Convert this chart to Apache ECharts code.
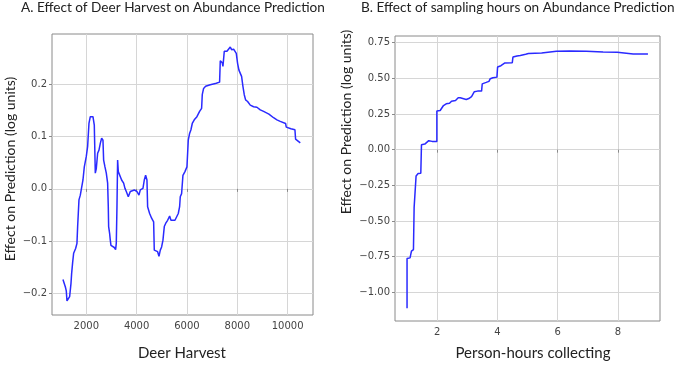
<!DOCTYPE html>
<html>
<head>
<meta charset="utf-8">
<script src="https://cdn.jsdelivr.net/npm/echarts@6/dist/echarts.min.js"></script>
<style>
  html, body { margin: 0; padding: 0; background: #fff; }
  #main { width: 680px; height: 365px; }
</style>
</head>
<body>
<div id="main"></div>
<script>
  // panel A: deer harvest vs effect
  var harvestX = [1073, 1126, 1166, 1205, 1232, 1285, 1338, 1391, 1417, 1457, 1497, 1576, 1629, 1656, 1682, 1709, 1762, 1841, 1868, 1921,
    2000, 2053, 2106, 2159, 2265, 2318, 2358, 2398, 2451, 2504, 2557, 2610, 2663, 2689, 2742, 2795, 2848, 2874, 2888, 2927,
    2954, 2980, 3033, 3113, 3165, 3192, 3219, 3245, 3272, 3351, 3404, 3484, 3537, 3590, 3669, 3749, 3802, 3908, 4013, 4093,
    4146, 4252, 4305, 4358, 4411, 4437, 4517, 4596, 4676, 4702, 4755, 4835, 4888, 4941, 4994, 5047, 5100, 5153, 5232, 5312,
    5365, 5444, 5524, 5603, 5656, 5709, 5735, 5788, 5841, 5921, 6000, 6053, 6106, 6159, 6212, 6291, 6397, 6503, 6583, 6609,
    6662, 6742, 6927, 7166, 7298, 7325, 7404, 7431, 7484, 7590, 7669, 7722, 7775, 7855, 7908, 7961, 8013, 8066, 8172, 8225,
    8278, 8331, 8411, 8517, 8649, 8781, 8914, 9046, 9258, 9443, 9576, 9708, 9920, 9947, 10133, 10292, 10318, 10371, 10504];
  var harvestY = [-0.173, -0.173, -0.187, -0.195, -0.214, -0.213, -0.206, -0.181, -0.162, -0.141, -0.123, -0.114, -0.104, -0.072, -0.047, -0.021, -0.012, -0.009, 0.017, 0.042,
    0.062, 0.081, 0.125, 0.138, 0.138, 0.122, 0.030, 0.039, 0.068, 0.074, 0.087, 0.097, 0.093, 0.055, 0.042, 0.030, 0.011, -0.034, -0.072, -0.085,
    -0.098, -0.108, -0.111, -0.112, -0.116, -0.104, -0.034, 0.055, 0.033, 0.030, 0.017, 0.011, 0.001, -0.005, -0.015, -0.005, -0.002, -0.002, -0.005, -0.012,
    -0.002, 0.001, 0.017, 0.026, 0.017, -0.034, -0.047, -0.056, -0.063, -0.117, -0.117, -0.120, -0.129, -0.117, -0.111, -0.098, -0.072, -0.066, -0.060, -0.052,
    -0.060, -0.063, -0.060, -0.058, -0.047, -0.034, -0.015, -0.009, 0.026, 0.033, 0.042, 0.093, 0.106, 0.113, 0.125, 0.132, 0.138, 0.148, 0.154, 0.180,
    0.192, 0.196, 0.199, 0.202, 0.204, 0.245, 0.241, 0.234, 0.263, 0.263, 0.264, 0.271, 0.266, 0.267, 0.264, 0.259, 0.240, 0.227, 0.215, 0.196,
    0.180, 0.170, 0.167, 0.160, 0.157, 0.156, 0.151, 0.148, 0.143, 0.136, 0.132, 0.129, 0.125, 0.118, 0.115, 0.113, 0.095, 0.092, 0.088];

  // panel B: sampling hours vs effect (step-like)
  var hoursX = [1.0, 1.0, 1.10, 1.146, 1.213, 1.235, 1.28, 1.30, 1.368, 1.457, 1.479, 1.59, 1.656, 1.72, 1.834, 1.99, 1.99, 2.10, 2.166, 2.21,
    2.30, 2.41, 2.477, 2.61, 2.699, 2.766, 2.83, 2.965, 3.05, 3.142, 3.23, 3.34, 3.475, 3.497, 3.63, 3.72, 3.763, 3.85, 3.985, 4.007,
    4.118, 4.25, 4.495, 4.517, 4.65, 4.76, 4.94, 5.03, 5.47, 5.515, 5.96, 6.0, 6.40, 6.957, 7.51, 7.98, 8.02, 8.51, 9.0];
  var hoursY = [-1.110, -0.763, -0.758, -0.711, -0.700, -0.406, -0.395, -0.184, -0.167, -0.165, 0.035, 0.039, 0.049, 0.063, 0.058, 0.058, 0.271, 0.274, 0.286, 0.309,
    0.321, 0.325, 0.339, 0.344, 0.363, 0.363, 0.356, 0.351, 0.358, 0.372, 0.405, 0.410, 0.410, 0.461, 0.471, 0.478, 0.497, 0.504, 0.508, 0.579,
    0.588, 0.607, 0.609, 0.649, 0.656, 0.659, 0.668, 0.673, 0.677, 0.684, 0.689, 0.698, 0.691, 0.689, 0.684, 0.682, 0.673, 0.670, 0.670];

  var ticksHarvest = [2000, 4000, 6000, 8000, 10000];
  var ticksEffectA = [-0.2, -0.1, 0.0, 0.1, 0.2];
  var ticksHours = [2, 4, 6, 8];
  var ticksEffectB = [-1.0, -0.75, -0.5, -0.25, 0.0, 0.25, 0.5, 0.75];

  function pairs(xs, ys) {
    return xs.map(function (x, i) { return [x, ys[i]]; });
  }
  function minus(s) { return s.replace('-', '\u2212'); }

  var frame = '#8a8a8a';
  var gridCol = '#d6d6d6';
  var tickFont = { fontFamily: 'DejaVu Sans', fontSize: 10, color: '#444' };
  var lblFont = 'Lato';

  function xAxis(idx, min, max, ticks) {
    return {
      type: 'value', gridIndex: idx, min: min, max: max,
      axisLine: { show: false },
      axisTick: { show: true, length: 3, inside: false, customValues: ticks, lineStyle: { color: frame } },
      axisLabel: Object.assign({ customValues: ticks, margin: 6,
        formatter: function (v) { return String(v); } }, tickFont),
      splitLine: { show: true, lineStyle: { color: gridCol, width: 1 } }
    };
  }
  function yAxis(idx, min, max, ticks, dec) {
    return {
      type: 'value', gridIndex: idx, min: min, max: max,
      axisLine: { show: false },
      axisTick: { show: true, length: 3, inside: false, customValues: ticks, lineStyle: { color: frame } },
      axisLabel: Object.assign({ customValues: ticks, margin: 5,
        formatter: function (v) { return minus(v.toFixed(dec)); } }, tickFont),
      splitLine: { show: true, lineStyle: { color: gridCol, width: 1 } }
    };
  }

  var myChart = echarts.init(document.getElementById('main'));
  var option = {
    animation: false,
    backgroundColor: '#fff',
    grid: [
      { left: 52, top: 34, width: 261, height: 281, show: true, borderColor: frame, borderWidth: 1, backgroundColor: 'transparent' },
      { left: 395, top: 36, width: 265, height: 285, show: true, borderColor: frame, borderWidth: 1, backgroundColor: 'transparent' }
    ],
    xAxis: [
      xAxis(0, 637, 11010, ticksHarvest),
      xAxis(1, 0.6, 9.4, ticksHours)
    ],
    yAxis: [
      yAxis(0, -0.241, 0.296, ticksEffectA, 1),
      yAxis(1, -1.2, 0.796, ticksEffectB, 2)
    ],
    graphic: [
      { type: 'text', left: 21, top: 1, style: { text: 'A. Effect of Deer Harvest on Abundance Prediction', font: '13.6px ' + lblFont, fill: '#222' } },
      { type: 'text', left: 361, top: 1, style: { text: 'B. Effect of sampling hours on Abundance Prediction', font: '13.6px ' + lblFont, fill: '#222' } },
      { type: 'text', x: 182, y: 353, style: { text: 'Deer Harvest', font: '15px ' + lblFont, fill: '#222', align: 'center', verticalAlign: 'middle' } },
      { type: 'text', x: 533, y: 353, style: { text: 'Person-hours collecting', font: '15px ' + lblFont, fill: '#222', align: 'center', verticalAlign: 'middle' } },
      { type: 'text', x: 10, y: 169, rotation: Math.PI / 2, style: { text: 'Effect on Prediction (log units)', font: '14px ' + lblFont, fill: '#222', align: 'center', verticalAlign: 'middle' } },
      { type: 'text', x: 346, y: 122, rotation: Math.PI / 2, style: { text: 'Effect on Prediction (log units)', font: '14px ' + lblFont, fill: '#222', align: 'center', verticalAlign: 'middle' } }
    ],
    series: [
      {
        type: 'line', xAxisIndex: 0, yAxisIndex: 0, showSymbol: false,
        data: pairs(harvestX, harvestY),
        lineStyle: { color: '#2a2aff', width: 1.5 }
      },
      {
        type: 'line', xAxisIndex: 1, yAxisIndex: 1, showSymbol: false,
        data: pairs(hoursX, hoursY),
        lineStyle: { color: '#2a2aff', width: 1.5 }
      }
    ]
  };
  myChart.setOption(option);
</script>
</body>
</html>
